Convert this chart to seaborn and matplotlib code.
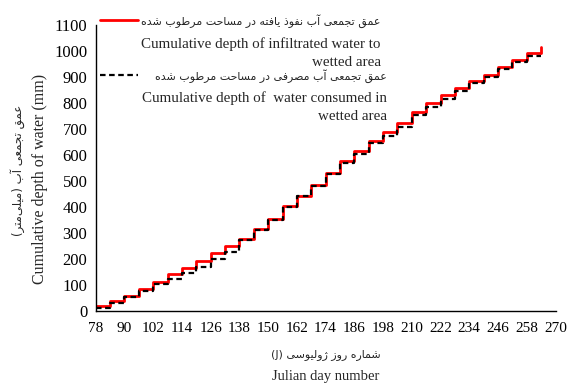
import matplotlib
matplotlib.use("Agg")
import matplotlib.pyplot as plt
import seaborn as sns
import pandas as pd
from matplotlib.lines import Line2D

# ---------------- data ----------------
days = [78, 84, 90, 96, 102, 108, 114, 120, 126, 132, 138, 144, 150, 156, 162, 168,
        174, 180, 186, 192, 198, 204, 210, 216, 222, 228, 234, 240, 246, 252, 258, 264]
infiltrated = [18, 37, 57, 84, 109, 140, 165, 193, 223, 250, 276, 315, 353, 403, 443, 484,
               531, 578, 613, 654, 687, 724, 766, 799, 830, 858, 886, 908, 937, 965, 991, 1017]
consumed = [12, 31, 54, 76, 101, 121, 144, 169, 198, 227, 272, 311, 350, 398, 440, 480,
            526, 570, 604, 645, 673, 709, 754, 786, 815, 847, 876, 901, 930, 957, 981, 981]
x_ticks = list(range(78, 271, 12))
y_ticks = list(range(0, 1101, 100))

label_inf_fa = "عمق تجمعی آب نفوذ یافته در مساحت مرطوب شده"
label_inf_en = "Cumulative depth of infiltrated water to\nwetted area"
label_con_fa = "عمق تجمعی آب مصرفی در مساحت مرطوب شده"
label_con_en = "Cumulative depth of  water consumed in\nwetted area"
ylabel_fa = "عمق تجمعی آب"
ylabel_fa_unit = "میلی\u200cمتر"
ylabel_en = "Cumulative depth of water (mm)"
xlabel_fa = "شماره روز ژولیوسی"
xlabel_en = "Julian day number"

# ------------- minimal Arabic/Persian shaping (visual order) -------------
FORMS = {  # isolated, final, initial, medial
    'ا': ('\uFE8D', '\uFE8E', None, None),
    'آ': ('\uFE81', '\uFE82', None, None),
    'ب': ('\uFE8F', '\uFE90', '\uFE91', '\uFE92'),
    'ت': ('\uFE95', '\uFE96', '\uFE97', '\uFE98'),
    'ج': ('\uFE9D', '\uFE9E', '\uFE9F', '\uFEA0'),
    'ح': ('\uFEA1', '\uFEA2', '\uFEA3', '\uFEA4'),
    'د': ('\uFEA9', '\uFEAA', None, None),
    'ذ': ('\uFEAB', '\uFEAC', None, None),
    'ر': ('\uFEAD', '\uFEAE', None, None),
    'ز': ('\uFEAF', '\uFEB0', None, None),
    'ژ': ('\uFB8A', '\uFB8B', None, None),
    'س': ('\uFEB1', '\uFEB2', '\uFEB3', '\uFEB4'),
    'ش': ('\uFEB5', '\uFEB6', '\uFEB7', '\uFEB8'),
    'ص': ('\uFEB9', '\uFEBA', '\uFEBB', '\uFEBC'),
    'ط': ('\uFEC1', '\uFEC2', '\uFEC3', '\uFEC4'),
    'ع': ('\uFEC9', '\uFECA', '\uFECB', '\uFECC'),
    'ف': ('\uFED1', '\uFED2', '\uFED3', '\uFED4'),
    'ق': ('\uFED5', '\uFED6', '\uFED7', '\uFED8'),
    'ل': ('\uFEDD', '\uFEDE', '\uFEDF', '\uFEE0'),
    'م': ('\uFEE1', '\uFEE2', '\uFEE3', '\uFEE4'),
    'ن': ('\uFEE5', '\uFEE6', '\uFEE7', '\uFEE8'),
    'ه': ('\uFEE9', '\uFEEA', '\uFEEB', '\uFEEC'),
    'و': ('\uFEED', '\uFEEE', None, None),
    'ی': ('\uFBFC', '\uFBFD', '\uFBFE', '\uFBFF'),
}


def shape(s):
    out = []
    n = len(s)
    for i, c in enumerate(s):
        if c == '\u200c':
            continue
        if c not in FORMS:
            out.append(c)
            continue
        iso, fin, ini, med = FORMS[c]
        p = s[i - 1] if i > 0 else ''
        nx = s[i + 1] if i + 1 < n else ''
        prev_j = p in FORMS and FORMS[p][2] is not None
        next_j = nx in FORMS and ini is not None
        if prev_j and next_j:
            out.append(med)
        elif prev_j:
            out.append(fin)
        elif next_j:
            out.append(ini)
        else:
            out.append(iso)
    return ''.join(out)[::-1]


FA = ['DejaVu Sans']
EN = ['Liberation Serif', 'DejaVu Serif']
RED = "#FF0000"
DASH = (0, (2.5, 1.6))

# ---------------- figure ----------------
sns.set_theme(style="white")
plt.rcParams['font.family'] = EN
fig = plt.figure(figsize=(5.68, 3.83), dpi=100)
ax = fig.add_axes([0.1685, 0.1888, 0.8095, 0.7459])

df_inf = pd.DataFrame({"day": days, "depth": infiltrated})
df_con = pd.DataFrame({"day": days, "depth": consumed})
sns.lineplot(data=df_inf, x="day", y="depth", ax=ax, color=RED, lw=2.0,
             drawstyle="steps-post", estimator=None, sort=False)
sns.lineplot(data=df_con, x="day", y="depth", ax=ax, color="black", lw=1.6,
             drawstyle="steps-post", estimator=None, sort=False, linestyle=DASH)

ax.set_xlim(78, 270)
ax.set_ylim(0, 1100)
ax.set_xticks(x_ticks)
ax.set_yticks(y_ticks)
ax.set_xlabel("")
ax.set_ylabel("")
for s in ["top", "right"]:
    ax.spines[s].set_visible(False)
for s in ["left", "bottom"]:
    ax.spines[s].set_color("black")
    ax.spines[s].set_linewidth(1.0)
ax.tick_params(axis="x", direction="out", length=5, width=1, color="black",
               labelsize=11, pad=3, labelcolor="black")
ax.tick_params(axis="y", direction="out", length=5, width=1, color="black",
               labelsize=12, pad=1, labelcolor="black")

# axis titles
ax.text(-0.121, 0.46, ylabel_en, transform=ax.transAxes, rotation=90,
        ha="center", va="center", fontsize=11.5, family=EN)
ax.text(-0.169, 0.49, "(" + shape(ylabel_fa_unit) + ") " + shape(ylabel_fa),
        transform=ax.transAxes, rotation=90, ha="center", va="center",
        fontsize=8.5, family=FA)
ax.text(0.5, -0.155, "(J) " + shape(xlabel_fa), transform=ax.transAxes,
        ha="center", va="center", fontsize=7.9, family=FA)
ax.text(0.5, -0.232, xlabel_en, transform=ax.transAxes,
        ha="center", va="center", fontsize=10.5, family=EN)

# legend: handles as two small legends, labels as right-aligned text blocks
h_inf = Line2D([], [], color=RED, lw=2.0)
h_con = Line2D([], [], color="black", lw=1.6, linestyle=DASH)
leg1 = ax.legend([h_inf], [" "], loc="center left", bbox_to_anchor=(0.0093, 1.014),
                 frameon=False, handlelength=2.5, handletextpad=0, borderpad=0,
                 borderaxespad=0, fontsize=11)
ax.add_artist(leg1)
leg2 = ax.legend([h_con], [" "], loc="center left", bbox_to_anchor=(0.0093, 0.821),
                 frameon=False, handlelength=2.5, handletextpad=0, borderpad=0,
                 borderaxespad=0, fontsize=11)

ax.text(0.620, 1.014, shape(label_inf_fa), transform=ax.transAxes, ha="right",
        va="center", fontsize=7.9, family=FA)
ax.text(0.620, 0.900, label_inf_en, transform=ax.transAxes, ha="right",
        va="center", multialignment="right", fontsize=10.8, linespacing=1.5, family=EN)
ax.text(0.633, 0.821, shape(label_con_fa), transform=ax.transAxes, ha="right",
        va="center", fontsize=7.9, family=FA)
ax.text(0.633, 0.713, label_con_en, transform=ax.transAxes, ha="right",
        va="center", multialignment="right", fontsize=10.8, linespacing=1.5, family=EN)

fig.savefig("out.png", dpi=100)
